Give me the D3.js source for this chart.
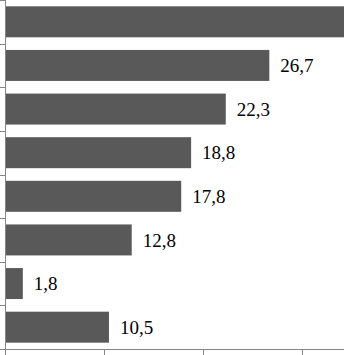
<!DOCTYPE html>
<html><head><meta charset="utf-8">
<script src="https://cdn.jsdelivr.net/npm/d3@7"></script>
<style>html,body{margin:0;padding:0;background:#fff;overflow:hidden}
.lbl{font-family:"Liberation Serif","Times New Roman",serif;font-size:19px;fill:#000}</style>
</head><body>
<svg id="chart" width="344" height="355"></svg>
<script>
const categories = ["C1","C2","C3","C4","C5","C6","C7","C8"];
const values = [36.0, 26.7, 22.3, 18.8, 17.8, 12.8, 1.8, 10.5];
const labels = ["36,0","26,7","22,3","18,8","17,8","12,8","1,8","10,5"];
const xTicks = [0, 10, 20, 30];

const W = 344;
const svg = d3.select("#chart");
const x = d3.scaleLinear().domain([0, 30]).range([5, 302]);
const y = d3.scaleBand().domain(categories).range([0, 349]).paddingInner(0.29).paddingOuter(0.145);

svg.selectAll("rect.bar").data(values).enter().append("rect")
  .attr("class","bar")
  .attr("x", x(0))
  .attr("y", (d,i) => y(categories[i]))
  .attr("width", d => x(d) - x(0))
  .attr("height", y.bandwidth())
  .attr("fill", "#595959");

// labels (the label of the first bar lies beyond the visible area, as in the reference)
const visible = values.map((d,i) => ({d, i})).filter(o => x(o.d) + 11 < W);
svg.selectAll("text.lbl").data(visible).enter().append("text")
  .attr("class","lbl")
  .attr("x", o => x(o.d) + 11)
  .attr("y", o => y(categories[o.i]) + y.bandwidth()/2)
  .attr("dy", "0.35em")
  .text(o => labels[o.i]);

// bottom axis
const xAxis = d3.axisBottom(x).tickValues(xTicks).tickSize(6).tickSizeOuter(0).tickFormat("");
const gx = svg.append("g").attr("transform", "translate(0,349.5)").call(xAxis);
gx.select(".domain").attr("stroke", "#868686").attr("d", "M5,0H344");
gx.selectAll(".tick line").attr("stroke", "#868686");

// left axis with ticks at band boundaries
const step = y.step();
const bounds = d3.range(categories.length + 1).map(i => y(categories[0]) - y.paddingInner()*step/2 + i*step);
const gy = svg.append("g");
gy.append("line").attr("x1", 5.5).attr("x2", 5.5).attr("y1", 0).attr("y2", 349.5).attr("stroke", "#868686");
gy.selectAll("line.t").data(bounds).enter().append("line").attr("class","t")
  .attr("x1", 0).attr("x2", 5.5)
  .attr("y1", d => Math.round(d) + 0.5).attr("y2", d => Math.round(d) + 0.5)
  .attr("stroke", "#868686");
</script>
</body></html>
